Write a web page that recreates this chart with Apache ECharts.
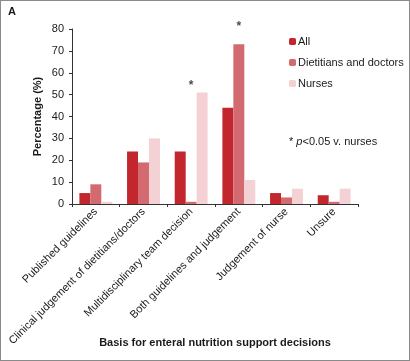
<!DOCTYPE html>
<html>
<head>
<meta charset="utf-8">
<script src="https://cdn.jsdelivr.net/npm/echarts@6/dist/echarts.min.js"></script>
<style>
  html, body { margin: 0; padding: 0; background: #fff; }
  #chart { width: 408px; height: 359px; border: 1px solid #8a8a8a; }
</style>
</head>
<body>
<div id="chart"></div>
<script>
const categories = [
  'Published guidelines',
  'Clinical judgement of dietitians/doctors',
  'Multidisciplinary team decision',
  'Both guidelines and judgement',
  'Judgement of nurse',
  'Unsure'
]
const allValues = [5, 24, 24, 44, 5, 4]
const dietDocValues = [9, 19, 1, 73, 3, 1]
const nurseValues = [1, 30, 51, 11, 7, 7]
// asterisks marking p<0.05 v. nurses: [category index, height]
const starMarks = [[2, 54], [3, 81]]

const font = 'Liberation Sans'
const chart = echarts.init(document.getElementById('chart'))

chart.setOption({
  animation: false,
  textStyle: { fontFamily: font },
  grid: { left: 71, right: 51, top: 28, bottom: 156 },
  legend: {
    orient: 'vertical',
    left: 288,
    top: 35,
    padding: 0,
    itemWidth: 7,
    itemHeight: 7,
    itemGap: 10,
    textStyle: { fontFamily: font, fontSize: 11, color: '#1a1a1a', padding: [0, 0, 0, -3] },
    data: ['All', 'Dietitians and doctors', 'Nurses']
  },
  xAxis: {
    type: 'category',
    data: categories,
    name: 'Basis for enteral nutrition support decisions',
    nameLocation: 'middle',
    nameGap: 133,
    nameMoveOverlap: false,
    nameTextStyle: { fontFamily: font, fontSize: 11, fontWeight: 'bold', color: '#1a1a1a' },
    axisLine: { lineStyle: { color: '#333', width: 1 } },
    axisTick: { show: true, length: 3, lineStyle: { color: '#333' } },
    axisLabel: { rotate: 45, fontSize: 11, color: '#1a1a1a', margin: 6, interval: 0 }
  },
  yAxis: {
    type: 'value',
    min: 0,
    max: 80,
    interval: 10,
    name: 'Percentage (%)',
    nameLocation: 'middle',
    nameGap: 29,
    nameMoveOverlap: false,
    nameTextStyle: { fontFamily: font, fontSize: 11, fontWeight: 'bold', color: '#1a1a1a' },
    splitLine: { show: false },
    axisLine: { show: true, lineStyle: { color: '#333', width: 1 } },
    axisTick: { show: true, length: 3, lineStyle: { color: '#333' } },
    axisLabel: { fontSize: 11, color: '#1a1a1a', margin: 8 }
  },
  series: [
    {
      name: 'All', type: 'bar', data: allValues,
      barGap: '0%', barCategoryGap: '31%',
      itemStyle: { color: '#c1272d' }
    },
    {
      name: 'Dietitians and doctors', type: 'bar', data: dietDocValues,
      itemStyle: { color: '#d26a70' }
    },
    {
      name: 'Nurses', type: 'bar', data: nurseValues,
      itemStyle: { color: '#f3d1d4' }
    },
    {
      type: 'scatter', data: starMarks, symbolSize: 0, silent: true, clip: false,
      label: { show: true, position: 'inside', formatter: '*', fontSize: 12, color: '#1a1a1a', fontWeight: 'bold' }
    }
  ],
  graphic: [
    {
      type: 'text', left: 7, top: 5,
      style: { text: 'A', fontFamily: font, fontSize: 11, fontWeight: 'bold', fill: '#1a1a1a' }
    },
    {
      type: 'text', left: 288, top: 135,
      style: {
        text: '{s|*} {i|p}<0.05 v. nurses',
        fontFamily: font, fontSize: 11, fill: '#1a1a1a',
        rich: {
          s: { fontFamily: font, fontSize: 11, fill: '#1a1a1a' },
          i: { fontFamily: font, fontSize: 11, fontStyle: 'italic', fill: '#1a1a1a' }
        }
      }
    }
  ]
})
</script>
</body>
</html>
